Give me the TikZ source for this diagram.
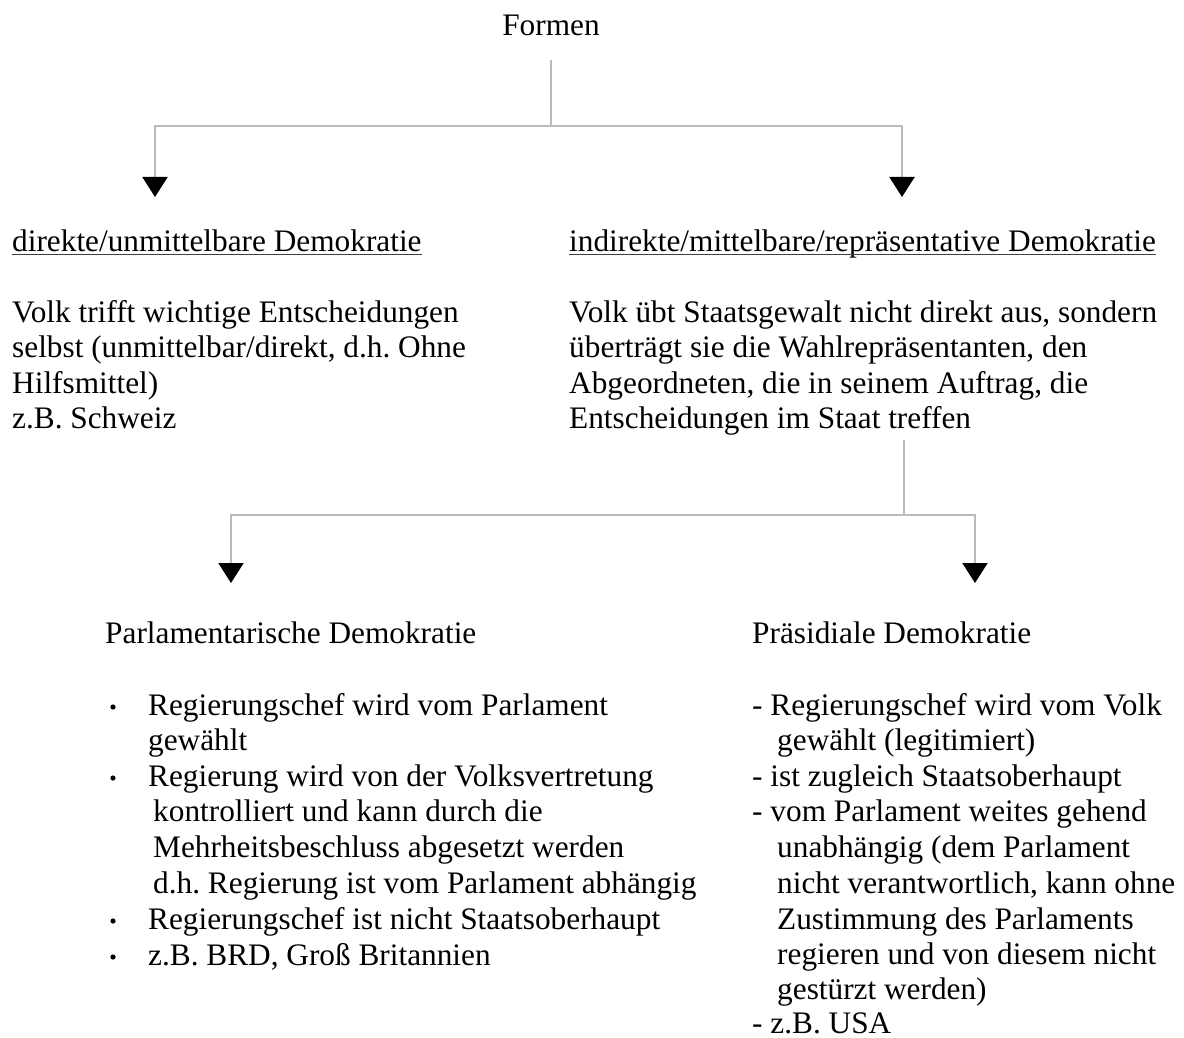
\documentclass[tikz,border=0pt]{standalone}
\usepackage{fontspec}
\setmainfont{Liberation Serif}
\usetikzlibrary{arrows.meta}
\frenchspacing
\tikzset{
  txt/.style={anchor=base west, inner sep=0pt, font=\fontsize{31.3}{35.5}\selectfont},
  conn/.style={draw=black!27, line width=2pt},
  tipdown/.style={-{Triangle[black,width=25pt,length=20pt]}},
  uline/.style={draw=black!75, line width=1.5pt},
  dot/.style={fill=black},
}
\begin{document}
\begin{tikzpicture}[x=1pt,y=-1pt]
\fill[white] (0,0) rectangle (1184,1038);
\useasboundingbox (0,0) rectangle (1184,1038);

% top level
\node[txt, anchor=base] (formen) at (551,36) {Formen};
\coordinate (j1) at (551,126);
\coordinate (t1) at (155,197);
\coordinate (t2) at (902,197);
\draw[conn, shorten <=23pt] (formen.south) -- (j1);
\draw[conn, tipdown] (j1) -| (t1);
\draw[conn, tipdown] (j1) -| (t2);

% headings
\node[txt] (h1) at (12,251) {direkte/unmittelbare Demokratie};
\node[txt] (h2) at (569,251) {indirekte/mittelbare/repräsentative Demokratie};
\draw[uline] ([yshift=-3.5pt]h1.base west) -- ([yshift=-3.5pt]h1.base east);
\draw[uline] ([yshift=-3.5pt]h2.base west) -- ([yshift=-3.5pt]h2.base east);

% left paragraph
\node[txt] (l1) at (12,322) {Volk trifft wichtige Entscheidungen};
\node[txt] (l2) at (12,357.5) {selbst (unmittelbar/direkt, d.h. Ohne};
\node[txt] (l3) at (12,393) {Hilfsmittel)};
\node[txt] (l4) at (12,428.5) {z.B. Schweiz};

% right paragraph
\node[txt] (r1) at (569,322) {Volk übt Staatsgewalt nicht direkt aus, sondern};
\node[txt] (r2) at (569,357.5) {überträgt sie die Wahlrepräsentanten, den};
\node[txt] (r3) at (569,393) {Abgeordneten, die in seinem Auftrag, die};
\node[txt] (r4) at (569,428.5) {Entscheidungen im Staat treffen};

% second level connector
\coordinate (s2) at (904,440);
\coordinate (j2) at (904,515);
\coordinate (t3) at (231,583);
\coordinate (t4) at (975,583);
\draw[conn] (s2) -- (j2);
\draw[conn, tipdown] (j2) -| (t3);
\draw[conn, tipdown] (j2) -| (t4);

% parlamentarische Demokratie
\node[txt] (p0) at (105,643) {Parlamentarische Demokratie};
\node[txt] (p1) at (148,715) {Regierungschef wird vom Parlament};
\node[txt] (p2) at (148,750) {gewählt};
\node[txt] (p3) at (148,786) {Regierung wird von der Volksvertretung};
\node[txt] (p4) at (153,821) {kontrolliert und kann durch die};
\node[txt] (p5) at (153,857) {Mehrheitsbeschluss abgesetzt werden};
\node[txt] (p6) at (153,893) {d.h. Regierung ist vom Parlament abhängig};
\node[txt] (p7) at (148,929) {Regierungschef ist nicht Staatsoberhaupt};
\node[txt] (p8) at (148,965) {z.B. BRD, Groß Britannien};
\fill[dot] (113,707) circle (2.6);
\fill[dot] (113,778) circle (2.6);
\fill[dot] (113,921) circle (2.6);
\fill[dot] (113,957) circle (2.6);

% präsidiale Demokratie
\node[txt] (q0) at (752,643) {Präsidiale Demokratie};
\node[txt] (q1) at (752,715) {- Regierungschef wird vom Volk};
\node[txt] (q2) at (777,750) {gewählt (legitimiert)};
\node[txt] (q3) at (752,786) {- ist zugleich Staatsoberhaupt};
\node[txt] (q4) at (752,821) {- vom Parlament weites gehend};
\node[txt] (q5) at (777,857) {unabhängig (dem Parlament};
\node[txt] (q6) at (777,893) {nicht verantwortlich, kann ohne};
\node[txt] (q7) at (777,929) {Zustimmung des Parlaments};
\node[txt] (q8) at (777,964) {regieren und von diesem nicht};
\node[txt] (q9) at (777,999) {gestürzt werden)};
\node[txt] (q10) at (752,1033) {- z.B. USA};
\end{tikzpicture}
\end{document}
